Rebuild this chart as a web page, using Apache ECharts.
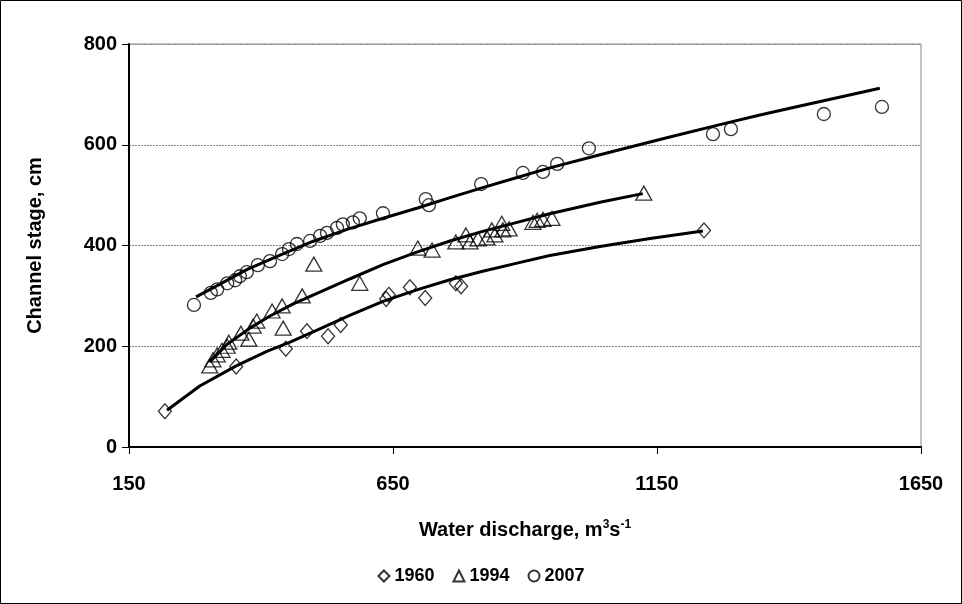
<!DOCTYPE html>
<html>
<head>
<meta charset="utf-8">
<script src="https://cdn.jsdelivr.net/npm/echarts@6/dist/echarts.min.js"></script>
<style>
  html, body { margin: 0; padding: 0; background: #fff; }
  #main { width: 962px; height: 604px; }
</style>
</head>
<body>
<div id="main"></div>
<script>
var x1960 = [218, 353, 447, 487, 527, 551, 637, 642, 682, 711, 769, 779, 1239];
var y1960 = [71, 160, 195, 230, 220, 242, 294, 302, 317, 296, 325, 319, 430];

var x1994 = [303, 309, 317, 326, 336, 339, 362, 377, 385, 392, 421, 440, 442, 478, 500, 587,
             697, 724, 769, 788, 796, 811, 828, 837, 843, 856, 858, 870, 915, 923, 934, 951, 1125];
var y1994 = [161, 173, 183, 192, 200, 208, 226, 214, 240, 250, 270, 280, 236, 300, 363, 325,
             395, 391, 407, 421, 407, 413, 415, 431, 421, 444, 431, 433, 446, 450, 452, 454, 504];

var x2007 = [273, 305, 317, 336, 351, 360, 373, 394, 417, 440, 453, 468, 493, 512, 525, 544,
             555, 574, 587, 631, 712, 718, 817, 896, 934, 961, 1021, 1256, 1290, 1466, 1576];
var y2007 = [282, 306, 313, 325, 331, 339, 347, 361, 369, 383, 393, 403, 409, 419, 425, 435,
             442, 446, 454, 464, 492, 480, 522, 544, 546, 562, 593, 621, 631, 661, 675];

// trend curves
var fit1960X = [222, 284, 353, 411, 455, 506, 569, 631, 695, 758, 820, 885, 947, 1042, 1137, 1237];
var fit1960Y = [73, 121, 161, 190, 208, 232, 262, 289, 312, 332, 349, 365, 380, 398, 414, 429];

var fit1994X = [303, 336, 379, 417, 461, 506, 569, 631, 695, 758, 820, 885, 947, 1042, 1123];
var fit1994Y = [169, 204, 236, 260, 284, 305, 334, 362, 387, 409, 428, 446, 463, 486, 503];

var fit2007X = [277, 309, 373, 436, 498, 563, 631, 695, 758, 820, 885, 947, 1042, 1161, 1269, 1345, 1408, 1472, 1572];
var fit2007Y = [298, 316, 352, 381, 408, 432, 454, 474, 495, 515, 535, 554, 580, 612, 640, 659, 674, 689, 712];

var xTicks = [150, 650, 1150, 1650];
var yTicks = [0, 200, 400, 600, 800];

function pairs(xs, ys) {
  var out = [];
  for (var i = 0; i < xs.length; i++) out.push([xs[i], ys[i]]);
  return out;
}

var myChart = echarts.init(document.getElementById('main'));

var font = 'Liberation Sans, Arial, sans-serif';
var markStyle = { color: 'rgba(0,0,0,0)', borderColor: '#000', borderWidth: 1.3 };

function fitLine(name, xs, ys) {
  return {
    name: name,
    type: 'line',
    data: pairs(xs, ys),
    showSymbol: false,
    symbol: 'none',
    smooth: false,
    z: 5,
    silent: true,
    lineStyle: { color: '#000', width: 3 }
  };
}

var option = {
  animation: false,
  backgroundColor: '#fff',
  textStyle: { fontFamily: font },
  graphic: [{
    type: 'rect',
    shape: { x: 0.5, y: 0.5, width: 961, height: 603 },
    style: { fill: 'none', stroke: '#000', lineWidth: 1 },
    silent: true
  }],
  grid: {
    left: 129, right: 41, top: 44, bottom: 157,
    show: true, borderColor: '#888', borderWidth: 1, backgroundColor: 'transparent'
  },
  legend: {
    data: [{ name: '1960', icon: 'diamond' }, { name: '1994', icon: 'triangle' }, { name: '2007', icon: 'circle' }],
    left: 'center',
    top: 562,
    itemWidth: 11,
    itemHeight: 11,
    itemGap: 18,
    textStyle: { fontFamily: font, fontWeight: 'bold', fontSize: 18, color: '#000' }
  },
  xAxis: {
    type: 'value',
    min: xTicks[0],
    max: xTicks[xTicks.length - 1],
    interval: 500,
    name: 'Water discharge, m{sup|3}s{sup|-1}',
    nameLocation: 'middle',
    nameGap: 72,
    nameTextStyle: {
      fontFamily: font, fontWeight: 'bold', fontSize: 20, color: '#000',
      rich: { sup: { fontFamily: font, fontWeight: 'bold', fontSize: 12, verticalAlign: 'top', lineHeight: 22, color: '#000' } }
    },
    axisLine: { lineStyle: { color: '#000', width: 2 } },
    axisTick: { show: true, inside: false, length: 7, lineStyle: { color: '#000', width: 1 } },
    axisLabel: {
      margin: 27, fontFamily: font, fontWeight: 'bold', fontSize: 20, color: '#000',
      formatter: function (v) { return String(v); }
    },
    splitLine: { show: false }
  },
  yAxis: {
    type: 'value',
    min: yTicks[0],
    max: yTicks[yTicks.length - 1],
    interval: 200,
    name: 'Channel stage, cm',
    nameLocation: 'middle',
    nameGap: 84,
    nameTextStyle: { fontFamily: font, fontWeight: 'bold', fontSize: 20, color: '#000' },
    axisLine: { show: true, lineStyle: { color: '#000', width: 2 } },
    axisTick: { show: true, inside: false, length: 7, lineStyle: { color: '#000', width: 1 } },
    axisLabel: {
      margin: 12, fontFamily: font, fontWeight: 'bold', fontSize: 20, color: '#000',
      formatter: function (v) { return String(v); }
    },
    splitLine: { show: true, lineStyle: { color: '#888', width: 1, type: [2, 1] } }
  },
  series: [
    {
      name: '1960', type: 'scatter', symbol: 'diamond', symbolSize: [13, 15],
      data: pairs(x1960, y1960), itemStyle: markStyle, z: 3
    },
    {
      name: '1994', type: 'scatter', symbol: 'triangle', symbolSize: [16, 14],
      data: pairs(x1994, y1994), itemStyle: markStyle, z: 3
    },
    {
      name: '2007', type: 'scatter', symbol: 'circle', symbolSize: 13,
      data: pairs(x2007, y2007), itemStyle: markStyle, z: 3
    },
    fitLine('fit1960', fit1960X, fit1960Y),
    fitLine('fit1994', fit1994X, fit1994Y),
    fitLine('fit2007', fit2007X, fit2007Y)
  ]
};

myChart.setOption(option);
</script>
</body>
</html>
